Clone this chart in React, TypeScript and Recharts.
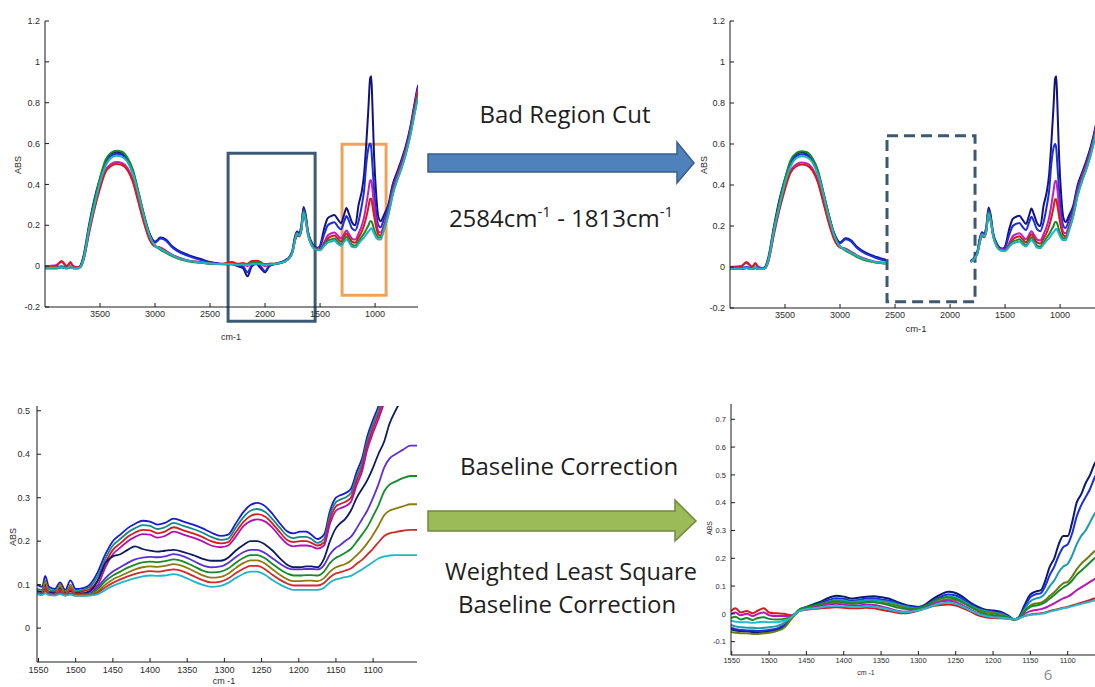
import { LineChart, Line, XAxis, YAxis, ReferenceArea } from 'recharts'

const FONT = '"Liberation Sans", Arial, sans-serif'
const SLIDE_FONT = '"Open Sans", sans-serif'

// ---- raw spectra, full range (top-left, and top-right after the cut)
const RAW_WN = [
  4000, 3900, 3850, 3800, 3770, 3740, 3700, 3680, 3650, 3600,
  3550, 3500, 3450, 3400, 3350, 3300, 3250, 3200, 3150, 3100,
  3050, 3000, 2950, 2900, 2850, 2800, 2700, 2584, 2500, 2400,
  2300, 2250, 2200, 2160, 2120, 2080, 2040, 2000, 1960, 1900,
  1813, 1780, 1750, 1730, 1710, 1690, 1670, 1650, 1630, 1610,
  1580, 1550, 1520, 1500, 1460, 1430, 1400, 1370, 1340, 1310,
  1280, 1260, 1240, 1210, 1180, 1150, 1120, 1100, 1080, 1060,
  1045, 1035, 1025, 1010, 990, 970, 950, 920, 880, 840,
  800, 760, 720, 680, 640, 610, 600,
]
const RAW_A = [
  -0.01, -0.01, -0.005, -0.01, -0.005, -0.01, -0.01, 0.0, 0.05, 0.2,
  0.33, 0.43, 0.51, 0.55, 0.56, 0.55, 0.52, 0.46, 0.36, 0.25,
  0.16, 0.12, 0.14, 0.13, 0.1, 0.08, 0.055, 0.035, 0.02, 0.012,
  0.01, 0.0, -0.01, -0.05, 0.0, 0.01, -0.01, -0.03, 0.0, 0.012,
  0.03, 0.045, 0.08, 0.14, 0.17, 0.16, 0.2, 0.29, 0.25, 0.17,
  0.12, 0.095, 0.09, 0.1, 0.19, 0.235, 0.245, 0.25, 0.23, 0.21,
  0.255, 0.285, 0.26, 0.215, 0.2, 0.3, 0.37, 0.45, 0.6, 0.78,
  0.92, 0.93, 0.8, 0.55, 0.35, 0.24, 0.22, 0.25, 0.3, 0.4,
  0.46, 0.52, 0.59, 0.68, 0.8, 0.88, 0.89,
]
const RAW_B = [
  -0.005, -0.005, 0.0, -0.005, 0.0, -0.005, -0.005, 0.0, 0.04, 0.18,
  0.31, 0.42, 0.5, 0.54, 0.55, 0.545, 0.515, 0.45, 0.35, 0.24,
  0.155, 0.115, 0.135, 0.125, 0.095, 0.075, 0.05, 0.03, 0.018, 0.011,
  0.01, 0.005, 0.0, -0.03, 0.005, 0.012, 0.0, -0.025, 0.005, 0.012,
  0.028, 0.042, 0.075, 0.13, 0.165, 0.155, 0.19, 0.28, 0.24, 0.165,
  0.115, 0.09, 0.088, 0.095, 0.16, 0.2, 0.21, 0.215, 0.195, 0.18,
  0.22, 0.245, 0.225, 0.185, 0.175, 0.22, 0.3, 0.37, 0.5, 0.58,
  0.6, 0.58, 0.5, 0.38, 0.26, 0.2, 0.19, 0.23, 0.29, 0.39,
  0.45, 0.51, 0.58, 0.67, 0.79, 0.87, 0.88,
]
const RAW_C = [
  0.0, 0.005, 0.02, 0.0, 0.015, 0.0, -0.005, -0.005, 0.03, 0.17,
  0.29, 0.39, 0.47, 0.5, 0.51, 0.505, 0.48, 0.42, 0.32, 0.22,
  0.14, 0.1, 0.09, 0.075, 0.058, 0.045, 0.028, 0.02, 0.014, 0.01,
  0.015, 0.01, 0.012, 0.0, 0.02, 0.022, 0.015, 0.0, 0.01, 0.012,
  0.025, 0.04, 0.07, 0.12, 0.16, 0.15, 0.18, 0.27, 0.23, 0.16,
  0.11, 0.088, 0.085, 0.085, 0.12, 0.15, 0.16, 0.165, 0.15, 0.135,
  0.16, 0.175, 0.16, 0.135, 0.13, 0.16, 0.2, 0.24, 0.3, 0.37,
  0.42, 0.42, 0.38, 0.3, 0.22, 0.17, 0.165, 0.2, 0.27, 0.37,
  0.44, 0.5, 0.57, 0.66, 0.78, 0.86, 0.87,
]
const RAW_D = [
  -0.005, 0.0, 0.025, 0.0, 0.02, -0.005, -0.005, -0.005, 0.03, 0.16,
  0.28, 0.38, 0.46, 0.49, 0.5, 0.495, 0.47, 0.41, 0.31, 0.21,
  0.13, 0.095, 0.088, 0.072, 0.055, 0.043, 0.026, 0.018, 0.012, 0.01,
  0.02, 0.012, 0.015, 0.01, 0.025, 0.026, 0.02, 0.005, 0.012, 0.012,
  0.025, 0.04, 0.07, 0.12, 0.15, 0.145, 0.175, 0.26, 0.22, 0.155,
  0.105, 0.085, 0.082, 0.082, 0.11, 0.135, 0.145, 0.15, 0.135, 0.12,
  0.145, 0.16, 0.145, 0.12, 0.115, 0.14, 0.17, 0.2, 0.24, 0.29,
  0.33, 0.33, 0.3, 0.25, 0.19, 0.155, 0.15, 0.19, 0.26, 0.36,
  0.43, 0.49, 0.56, 0.65, 0.77, 0.85, 0.86,
]
const RAW_E = [
  -0.01, -0.01, -0.005, -0.01, -0.005, -0.01, -0.01, -0.005, 0.04, 0.19,
  0.32, 0.43, 0.52, 0.555, 0.565, 0.56, 0.53, 0.47, 0.36, 0.25,
  0.15, 0.1, 0.08, 0.065, 0.05, 0.038, 0.024, 0.016, 0.012, 0.009,
  0.008, 0.008, 0.01, 0.012, 0.015, 0.018, 0.015, 0.01, 0.012, 0.012,
  0.025, 0.04, 0.07, 0.125, 0.16, 0.15, 0.18, 0.27, 0.23, 0.16,
  0.11, 0.085, 0.08, 0.08, 0.105, 0.125, 0.13, 0.135, 0.12, 0.105,
  0.13, 0.145, 0.13, 0.105, 0.1, 0.12, 0.145, 0.16, 0.18, 0.2,
  0.22, 0.22, 0.21, 0.18, 0.155, 0.14, 0.14, 0.18, 0.25, 0.35,
  0.42, 0.48, 0.55, 0.64, 0.75, 0.83, 0.84,
]
const RAW_F = [
  -0.008, -0.008, -0.005, -0.01, 0.0, -0.01, -0.01, -0.005, 0.035, 0.18,
  0.3, 0.41, 0.49, 0.53, 0.54, 0.535, 0.51, 0.45, 0.35, 0.24,
  0.15, 0.1, 0.085, 0.07, 0.055, 0.042, 0.027, 0.018, 0.013, 0.01,
  0.01, 0.006, 0.008, 0.005, 0.01, 0.012, 0.01, 0.005, 0.008, 0.012,
  0.025, 0.04, 0.07, 0.12, 0.16, 0.15, 0.18, 0.26, 0.225, 0.155,
  0.105, 0.083, 0.08, 0.078, 0.1, 0.115, 0.12, 0.125, 0.11, 0.1,
  0.12, 0.13, 0.12, 0.095, 0.092, 0.11, 0.13, 0.14, 0.155, 0.17,
  0.18, 0.185, 0.18, 0.16, 0.14, 0.13, 0.13, 0.175, 0.25, 0.35,
  0.42, 0.48, 0.55, 0.64, 0.75, 0.82, 0.83,
]
const RAW_SERIES = [RAW_A, RAW_B, RAW_C, RAW_D, RAW_E, RAW_F]
const RAW_COLORS = ['#12127a', '#1a2fe0', '#c020c0', '#d81a1a', '#178a2a', '#1fb2c0']

const CUT_FROM = 2584
const CUT_TO = 1813

// ---- zoomed raw fingerprint (bottom-left)
const ZOOM_WN = [
  1552, 1545, 1541, 1536, 1528, 1521, 1514, 1507, 1500, 1490,
  1481, 1470, 1460, 1450, 1440, 1430, 1420, 1410, 1400, 1390,
  1380, 1368, 1355, 1342, 1330, 1318, 1305, 1295, 1285, 1274,
  1265, 1256, 1245, 1235, 1225, 1215, 1207, 1198, 1190, 1183,
  1175, 1166, 1158, 1150, 1145, 1138, 1130, 1122, 1115, 1108,
  1100, 1093, 1085, 1078, 1070, 1060, 1050, 1040,
]
const ZOOM_U1 = [
  0.1, 0.095, 0.12, 0.095, 0.09, 0.105, 0.088, 0.11, 0.09, 0.092,
  0.1, 0.13, 0.17, 0.2, 0.215, 0.23, 0.24, 0.247, 0.245, 0.238,
  0.242, 0.252, 0.245, 0.238, 0.23, 0.22, 0.212, 0.215, 0.24, 0.268,
  0.283, 0.288, 0.28, 0.262, 0.24, 0.222, 0.218, 0.222, 0.222, 0.215,
  0.205, 0.215, 0.27, 0.3, 0.305, 0.31, 0.32, 0.36, 0.39, 0.44,
  0.48, 0.51, 0.56, 0.6, 0.65, 0.7, 0.72, 0.72,
]
const ZOOM_U2 = [
  0.09, 0.088, 0.1, 0.09, 0.085, 0.09, 0.085, 0.095, 0.085, 0.088,
  0.095, 0.12, 0.16, 0.19, 0.205, 0.22, 0.23, 0.237, 0.235, 0.228,
  0.232, 0.242, 0.235, 0.228, 0.22, 0.21, 0.203, 0.206, 0.23, 0.256,
  0.27, 0.274, 0.267, 0.25, 0.23, 0.212, 0.207, 0.21, 0.21, 0.205,
  0.196, 0.205, 0.26, 0.29, 0.295, 0.3, 0.31, 0.35, 0.38, 0.43,
  0.47, 0.5, 0.54, 0.58, 0.63, 0.68, 0.7, 0.7,
]
const ZOOM_U3 = [
  0.085, 0.083, 0.09, 0.084, 0.083, 0.095, 0.082, 0.085, 0.082, 0.085,
  0.09, 0.11, 0.15, 0.18, 0.195, 0.21, 0.22, 0.226, 0.225, 0.218,
  0.222, 0.232, 0.225, 0.218, 0.21, 0.2, 0.195, 0.198, 0.22, 0.245,
  0.258, 0.262, 0.256, 0.24, 0.22, 0.202, 0.198, 0.2, 0.2, 0.196,
  0.19, 0.197, 0.25, 0.28, 0.285, 0.29, 0.3, 0.34, 0.37, 0.42,
  0.46, 0.49, 0.53, 0.57, 0.62, 0.67, 0.69, 0.69,
]
const ZOOM_U4 = [
  0.08, 0.08, 0.085, 0.08, 0.08, 0.082, 0.078, 0.08, 0.078, 0.08,
  0.085, 0.1, 0.14, 0.17, 0.185, 0.2, 0.21, 0.216, 0.215, 0.208,
  0.212, 0.222, 0.215, 0.208, 0.2, 0.19, 0.186, 0.19, 0.21, 0.235,
  0.246, 0.25, 0.245, 0.23, 0.21, 0.193, 0.188, 0.19, 0.19, 0.188,
  0.183, 0.19, 0.24, 0.27, 0.275, 0.28, 0.29, 0.33, 0.36, 0.41,
  0.45, 0.48, 0.52, 0.56, 0.61, 0.66, 0.68, 0.68,
]
const ZOOM_L1 = [
  0.085, 0.083, 0.1, 0.082, 0.08, 0.09, 0.08, 0.085, 0.08, 0.08,
  0.085, 0.11, 0.15, 0.165, 0.17, 0.18, 0.188, 0.182, 0.178, 0.176,
  0.178, 0.18, 0.175, 0.168, 0.16, 0.155, 0.155, 0.162, 0.178, 0.192,
  0.2, 0.2, 0.192, 0.178, 0.16, 0.145, 0.14, 0.14, 0.142, 0.142,
  0.14, 0.16, 0.2, 0.23, 0.24, 0.25, 0.27, 0.3, 0.32, 0.34,
  0.37, 0.4, 0.43, 0.47, 0.5, 0.53, 0.55, 0.56,
]
const ZOOM_L2 = [
  0.082, 0.08, 0.09, 0.08, 0.078, 0.085, 0.078, 0.09, 0.078, 0.078,
  0.08, 0.095, 0.115, 0.13, 0.14, 0.15, 0.158, 0.162, 0.164, 0.163,
  0.165, 0.17, 0.165, 0.155, 0.145, 0.14, 0.142, 0.15, 0.163, 0.175,
  0.18, 0.18, 0.172, 0.16, 0.148, 0.138, 0.135, 0.135, 0.136, 0.136,
  0.135, 0.145, 0.17, 0.185, 0.19, 0.2, 0.21, 0.23, 0.25, 0.27,
  0.3, 0.33, 0.37, 0.39, 0.4, 0.41, 0.42, 0.42,
]
const ZOOM_L3 = [
  0.081, 0.079, 0.085, 0.079, 0.077, 0.08, 0.077, 0.079, 0.077, 0.077,
  0.078, 0.09, 0.108, 0.121, 0.13, 0.139, 0.146, 0.151, 0.153, 0.152,
  0.154, 0.158, 0.153, 0.143, 0.133, 0.128, 0.13, 0.137, 0.15, 0.162,
  0.168, 0.168, 0.16, 0.147, 0.135, 0.125, 0.121, 0.121, 0.122, 0.122,
  0.121, 0.13, 0.15, 0.162, 0.166, 0.173, 0.182, 0.199, 0.215, 0.232,
  0.258, 0.282, 0.315, 0.33, 0.337, 0.345, 0.35, 0.35,
]
const ZOOM_L4 = [
  0.08, 0.078, 0.11, 0.078, 0.076, 0.1, 0.076, 0.1, 0.076, 0.076,
  0.077, 0.085, 0.1, 0.112, 0.12, 0.128, 0.135, 0.14, 0.142, 0.141,
  0.143, 0.147, 0.142, 0.132, 0.122, 0.116, 0.118, 0.125, 0.138, 0.15,
  0.156, 0.156, 0.148, 0.135, 0.122, 0.112, 0.108, 0.108, 0.109, 0.109,
  0.108, 0.115, 0.13, 0.14, 0.143, 0.147, 0.155, 0.168, 0.18, 0.195,
  0.215, 0.235, 0.26, 0.27, 0.275, 0.28, 0.285, 0.285,
]
const ZOOM_L5 = [
  0.079, 0.077, 0.095, 0.077, 0.076, 0.088, 0.075, 0.09, 0.075, 0.075,
  0.076, 0.082, 0.094, 0.104, 0.112, 0.119, 0.125, 0.129, 0.131, 0.13,
  0.132, 0.135, 0.13, 0.12, 0.111, 0.105, 0.107, 0.114, 0.126, 0.137,
  0.143, 0.143, 0.135, 0.122, 0.111, 0.102, 0.098, 0.098, 0.098, 0.098,
  0.098, 0.104, 0.117, 0.126, 0.128, 0.132, 0.137, 0.148, 0.157, 0.169,
  0.183, 0.197, 0.212, 0.218, 0.221, 0.224, 0.226, 0.226,
]
const ZOOM_L6 = [
  0.078, 0.076, 0.08, 0.076, 0.075, 0.078, 0.075, 0.077, 0.074, 0.074,
  0.075, 0.078, 0.088, 0.097, 0.104, 0.11, 0.115, 0.119, 0.121, 0.12,
  0.121, 0.124, 0.118, 0.108, 0.1, 0.095, 0.097, 0.104, 0.115, 0.125,
  0.13, 0.13, 0.122, 0.11, 0.1, 0.092, 0.088, 0.088, 0.088, 0.088,
  0.088, 0.093, 0.105, 0.112, 0.114, 0.117, 0.12, 0.128, 0.135, 0.143,
  0.152, 0.16, 0.165, 0.167, 0.168, 0.168, 0.168, 0.168,
]
const ZOOM_SERIES = [ZOOM_U1, ZOOM_U2, ZOOM_U3, ZOOM_U4, ZOOM_L1, ZOOM_L2, ZOOM_L3, ZOOM_L4, ZOOM_L5, ZOOM_L6]
const ZOOM_COLORS = [
  '#1a1ad0', '#138a8a', '#d41c1c', '#b010b0', '#0c1a5e',
  '#5b2fd6', '#178a2a', '#8a7a10', '#d02a2a', '#22b4c8',
]

// ---- weighted least squares baseline corrected (bottom-right)
const WLS_WN = [
  1551, 1545, 1538, 1530, 1522, 1515, 1507, 1500, 1490, 1480,
  1470, 1465, 1460, 1450, 1440, 1430, 1420, 1410, 1400, 1390,
  1380, 1370, 1360, 1350, 1340, 1330, 1320, 1310, 1300, 1290,
  1280, 1270, 1260, 1250, 1240, 1230, 1220, 1210, 1200, 1190,
  1180, 1172, 1165, 1158, 1150, 1143, 1136, 1130, 1124, 1118,
  1112, 1106, 1100, 1094, 1088, 1082, 1076, 1070, 1064, 1058,
  1050, 1042,
]
const WLS_H1 = [
  -0.055, -0.06, -0.062, -0.063, -0.065, -0.066, -0.065, -0.062, -0.058, -0.045,
  -0.015, 0.0, 0.015, 0.025, 0.035, 0.045, 0.058, 0.065, 0.062, 0.055,
  0.058, 0.062, 0.063, 0.06, 0.055, 0.045, 0.035, 0.028, 0.025, 0.035,
  0.055, 0.07, 0.08, 0.075, 0.06, 0.04, 0.025, 0.015, 0.012, 0.008,
  -0.005, -0.02, -0.01, 0.03, 0.07, 0.08, 0.085, 0.12, 0.17, 0.2,
  0.25, 0.28, 0.28, 0.33, 0.4, 0.43, 0.47, 0.5, 0.54, 0.56,
  0.6, 0.62,
]
const WLS_H2 = [
  -0.05, -0.055, -0.058, -0.06, -0.06, -0.062, -0.06, -0.058, -0.053, -0.04,
  -0.013, 0.0, 0.013, 0.022, 0.03, 0.04, 0.05, 0.056, 0.054, 0.048,
  0.05, 0.055, 0.056, 0.052, 0.048, 0.04, 0.03, 0.025, 0.022, 0.03,
  0.048, 0.062, 0.07, 0.066, 0.052, 0.035, 0.02, 0.012, 0.008, 0.004,
  -0.008, -0.02, -0.012, 0.022, 0.06, 0.07, 0.075, 0.1, 0.14, 0.17,
  0.21, 0.24, 0.25, 0.29, 0.35, 0.39, 0.42, 0.45, 0.49, 0.52,
  0.55, 0.57,
]
const WLS_H3 = [
  -0.04, -0.045, -0.048, -0.05, -0.05, -0.052, -0.05, -0.048, -0.044, -0.033,
  -0.01, 0.0, 0.012, 0.02, 0.027, 0.035, 0.044, 0.05, 0.048, 0.043,
  0.045, 0.049, 0.05, 0.047, 0.043, 0.036, 0.028, 0.022, 0.02, 0.027,
  0.043, 0.055, 0.062, 0.058, 0.046, 0.03, 0.017, 0.01, 0.005, 0.0,
  -0.01, -0.02, -0.014, 0.015, 0.045, 0.055, 0.06, 0.075, 0.1, 0.12,
  0.15, 0.17, 0.18, 0.21, 0.25, 0.28, 0.3, 0.33, 0.36, 0.38,
  0.4, 0.42,
]
const WLS_H4 = [
  -0.065, -0.068, -0.07, -0.07, -0.072, -0.072, -0.07, -0.068, -0.062, -0.05,
  -0.018, -0.002, 0.01, 0.018, 0.025, 0.03, 0.038, 0.042, 0.04, 0.036,
  0.038, 0.041, 0.042, 0.04, 0.036, 0.03, 0.023, 0.018, 0.017, 0.023,
  0.036, 0.047, 0.053, 0.05, 0.04, 0.025, 0.013, 0.006, 0.002, -0.004,
  -0.013, -0.022, -0.016, 0.008, 0.03, 0.037, 0.04, 0.05, 0.065, 0.078,
  0.095, 0.11, 0.115, 0.135, 0.16, 0.18, 0.195, 0.21, 0.225, 0.235,
  0.245, 0.25,
]
const WLS_G1 = [
  0.01, 0.02, 0.005, 0.01, 0.002, 0.012, 0.02, 0.005, 0.002, 0.0,
  -0.005, 0.0, 0.01, 0.015, 0.018, 0.02, 0.022, 0.024, 0.022, 0.02,
  0.02, 0.022, 0.02, 0.015, 0.01, 0.005, 0.002, 0.005, 0.012, 0.02,
  0.028, 0.032, 0.034, 0.03, 0.02, 0.008, -0.005, -0.012, -0.015, -0.016,
  -0.018, -0.02, -0.015, -0.008, -0.002, 0.0, 0.002, 0.005, 0.01, 0.014,
  0.018, 0.022, 0.025, 0.03, 0.035, 0.04, 0.045, 0.05, 0.055, 0.058,
  0.06, 0.062,
]
const WLS_G2 = [
  0.0, 0.005, -0.005, 0.0, -0.008, 0.0, 0.005, -0.005, -0.008, -0.008,
  -0.006, 0.0, 0.012, 0.02, 0.025, 0.03, 0.034, 0.036, 0.034, 0.03,
  0.03, 0.033, 0.032, 0.027, 0.02, 0.012, 0.008, 0.01, 0.016, 0.025,
  0.036, 0.044, 0.047, 0.042, 0.03, 0.015, 0.002, -0.006, -0.01, -0.012,
  -0.015, -0.019, -0.013, 0.0, 0.01, 0.014, 0.017, 0.022, 0.03, 0.038,
  0.047, 0.056, 0.062, 0.072, 0.085, 0.095, 0.105, 0.115, 0.125, 0.13,
  0.135, 0.14,
]
const WLS_G3 = [
  -0.015, -0.01, -0.02, -0.015, -0.022, -0.015, -0.012, -0.018, -0.02, -0.018,
  -0.01, 0.0, 0.014, 0.024, 0.03, 0.037, 0.042, 0.045, 0.043, 0.038,
  0.039, 0.043, 0.043, 0.038, 0.032, 0.024, 0.018, 0.017, 0.02, 0.03,
  0.045, 0.056, 0.06, 0.054, 0.04, 0.024, 0.01, 0.0, -0.004, -0.008,
  -0.013, -0.02, -0.013, 0.008, 0.025, 0.03, 0.034, 0.042, 0.055, 0.068,
  0.082, 0.095, 0.105, 0.12, 0.14, 0.155, 0.17, 0.185, 0.2, 0.21,
  0.22, 0.225,
]
const WLS_G4 = [
  -0.025, -0.028, -0.03, -0.03, -0.032, -0.03, -0.028, -0.03, -0.03, -0.025,
  -0.012, 0.0, 0.01, 0.017, 0.02, 0.024, 0.027, 0.028, 0.027, 0.025,
  0.025, 0.027, 0.026, 0.022, 0.016, 0.01, 0.006, 0.008, 0.013, 0.02,
  0.03, 0.037, 0.04, 0.036, 0.025, 0.012, 0.0, -0.008, -0.012, -0.014,
  -0.017, -0.02, -0.016, -0.008, -0.004, -0.002, 0.0, 0.003, 0.008, 0.012,
  0.016, 0.02, 0.023, 0.027, 0.032, 0.036, 0.04, 0.044, 0.048, 0.05,
  0.052, 0.054,
]
const WLS_SERIES = [WLS_H1, WLS_H2, WLS_H3, WLS_H4, WLS_G1, WLS_G2, WLS_G3, WLS_G4]
const WLS_COLORS = ['#0c1a6e', '#1a2fe0', '#1b9aa8', '#6b7a12', '#d81a1a', '#b818b8', '#178a2a', '#26b8cc']

const WIDE_X_TICKS = [3500, 3000, 2500, 2000, 1500, 1000]
const WIDE_Y_TICKS = [-0.2, 0, 0.2, 0.4, 0.6, 0.8, 1, 1.2]
const NARROW_X_TICKS = [1550, 1500, 1450, 1400, 1350, 1300, 1250, 1200, 1150, 1100]
const ZOOM_Y_TICKS = [0, 0.1, 0.2, 0.3, 0.4, 0.5]
const WLS_Y_TICKS = [-0.1, 0, 0.1, 0.2, 0.3, 0.4, 0.5, 0.6, 0.7]

type Row = Record<string, number | null>

function toRows(wn: number[], series: number[][], drop?: (w: number) => boolean): Row[] {
  return wn.map((w, i) => {
    const row: Row = { wn: w }
    series.forEach((vals, k) => {
      row[`s${k}`] = drop && drop(w) ? null : vals[i]
    })
    return row
  })
}

interface Box { x1: number; x2: number; y1: number; y2: number; color: string; dash?: string }

interface SpecProps {
  left: number
  top: number
  plotW: number
  plotH: number
  rows: Row[]
  colors: string[]
  xDomain: [number, number]
  xTicks: number[]
  yDomain: [number, number]
  yTicks: number[]
  fontSize: number
  xMargin: number
  yMargin: number
  lineWidth: number
  boxes?: Box[]
}

function Spectrum(p: SpecProps) {
  const yw = 40, mt = 12, mr = 12, xh = 30
  const tick = { fontSize: p.fontSize, fill: '#2b2b2b', fontFamily: FONT }
  const blank = () => ''
  return (
    <div style={{ position: 'absolute', left: p.left - yw, top: p.top - mt }}>
      <LineChart width={yw + p.plotW + mr} height={mt + p.plotH + xh} data={p.rows}
        margin={{ top: mt, right: mr, bottom: 0, left: 0 }}>
        <XAxis dataKey="wn" type="number" domain={p.xDomain} reversed allowDataOverflow ticks={p.xTicks}
          interval={0} height={xh} tickSize={-4} tickMargin={p.xMargin} tick={tick} stroke="#1a1a1a" />
        <XAxis xAxisId="top" dataKey="wn" type="number" orientation="top" domain={p.xDomain} reversed
          allowDataOverflow ticks={p.xTicks} interval={0} height={0} tickSize={-4} tickFormatter={blank} stroke="#1a1a1a" />
        <YAxis type="number" domain={p.yDomain} allowDataOverflow ticks={p.yTicks} interval={0} width={yw}
          tickSize={-4} tickMargin={p.yMargin} tick={tick} stroke="#1a1a1a" />
        <YAxis yAxisId="right" orientation="right" type="number" domain={p.yDomain} allowDataOverflow
          ticks={p.yTicks} interval={0} width={0} tickSize={-4} tickFormatter={blank} stroke="#1a1a1a" />
        {p.colors.map((c, k) => (
          <Line key={k} dataKey={`s${k}`} type="monotone" stroke={c} strokeWidth={p.lineWidth} dot={false}
            isAnimationActive={false} />
        ))}
        {p.boxes?.map((b, i) => (
          <ReferenceArea key={i} x1={b.x1} x2={b.x2} y1={b.y1} y2={b.y2} fill="none" fillOpacity={0}
            stroke={b.color} strokeWidth={3} strokeDasharray={b.dash} ifOverflow="visible" />
        ))}
      </LineChart>
    </div>
  )
}

const rawRows = toRows(RAW_WN, RAW_SERIES)
const cutRows = toRows(RAW_WN, RAW_SERIES, w => w < CUT_FROM && w > CUT_TO)
const zoomRows = toRows(ZOOM_WN, ZOOM_SERIES)
const wlsRows = toRows(WLS_WN, WLS_SERIES)

function AxisText({ x, y, size, rotate, children }: { x: number; y: number; size: number; rotate?: boolean; children: string }) {
  return (
    <text x={x} y={y} fontSize={size} fontFamily={FONT} fill="#2b2b2b" textAnchor="middle" dominantBaseline="central"
      transform={rotate ? `rotate(-90 ${x} ${y})` : undefined}>{children}</text>
  )
}

export default function App() {
  return (
    <div style={{ position: 'fixed', left: 0, top: 0, width: 1095, height: 687, overflow: 'hidden', background: '#fff' }}>
      <Spectrum left={45} top={21} plotW={373} plotH={286} rows={rawRows} colors={RAW_COLORS}
        xDomain={[610, 4000]} xTicks={WIDE_X_TICKS} yDomain={[-0.2, 1.2]} yTicks={WIDE_Y_TICKS}
        fontSize={9} xMargin={8} yMargin={9} lineWidth={2}
        boxes={[
          { x1: 2336, x2: 1545, y1: -0.27, y2: 0.553, color: '#3d5a74' },
          { x1: 1300, x2: 900, y1: -0.142, y2: 0.597, color: '#f0a25a' },
        ]} />
      <Spectrum left={730} top={21} plotW={373} plotH={287} rows={cutRows} colors={RAW_COLORS}
        xDomain={[610, 4000]} xTicks={WIDE_X_TICKS} yDomain={[-0.2, 1.2]} yTicks={WIDE_Y_TICKS}
        fontSize={9} xMargin={8} yMargin={9} lineWidth={2}
        boxes={[{ x1: 2573, x2: 1773, y1: -0.17, y2: 0.64, color: '#3e5870', dash: '11 6' }]} />
      <Spectrum left={37} top={406} plotW={380} plotH={256} rows={zoomRows} colors={ZOOM_COLORS}
        xDomain={[1041, 1552]} xTicks={NARROW_X_TICKS} yDomain={[-0.078, 0.511]} yTicks={ZOOM_Y_TICKS}
        fontSize={9} xMargin={9} yMargin={11} lineWidth={1.8} />
      <Spectrum left={731} top={404} plotW={380} plotH={251} rows={wlsRows} colors={WLS_COLORS}
        xDomain={[1042, 1551]} xTicks={NARROW_X_TICKS} yDomain={[-0.148, 0.755]} yTicks={WLS_Y_TICKS}
        fontSize={7.5} xMargin={7} yMargin={9} lineWidth={2} />

      <svg width={1095} height={687} style={{ position: 'absolute', left: 0, top: 0, pointerEvents: 'none' }}>
        <AxisText x={18} y={165} size={9} rotate>ABS</AxisText>
        <AxisText x={231} y={337} size={9}>cm-1</AxisText>
        <AxisText x={704} y={165} size={9} rotate>ABS</AxisText>
        <AxisText x={916} y={328} size={9.5}>cm-1</AxisText>
        <AxisText x={13} y={537} size={9} rotate>ABS</AxisText>
        <AxisText x={224} y={681} size={9}>cm -1</AxisText>
        <AxisText x={709} y={528} size={7} rotate>ABS</AxisText>
        <AxisText x={866} y={672} size={7}>cm -1</AxisText>

        <polygon points="428,154 677,154 677,142 694,163 677,183 677,172 428,172"
          fill="#4f81bd" stroke="#385d8a" strokeWidth={1.5} />
        <polygon points="428,511 675,511 675,500 696,521 675,541 675,531 428,531"
          fill="#9bbb59" stroke="#71893f" strokeWidth={1.5} />

        <g fontFamily={SLIDE_FONT} fill="#1e1e1e" textAnchor="middle">
          <text x={565} y={123} fontSize={24}>Bad Region Cut</text>
          <text x={561} y={227} fontSize={24}>
            2584cm<tspan fontSize={15} dy={-10}>-1</tspan><tspan dy={10}> - 1813cm</tspan><tspan fontSize={15} dy={-10}>-1</tspan>
          </text>
          <text x={569} y={475} fontSize={24}>Baseline Correction</text>
          <text x={571} y={580} fontSize={23.5}>Weighted Least Square</text>
          <text x={567} y={613} fontSize={24}>Baseline Correction</text>
        </g>
        <text x={1048} y={680} fontFamily={SLIDE_FONT} fontSize={15} fill="#8a8a8a" textAnchor="middle">6</text>
      </svg>
    </div>
  )
}
